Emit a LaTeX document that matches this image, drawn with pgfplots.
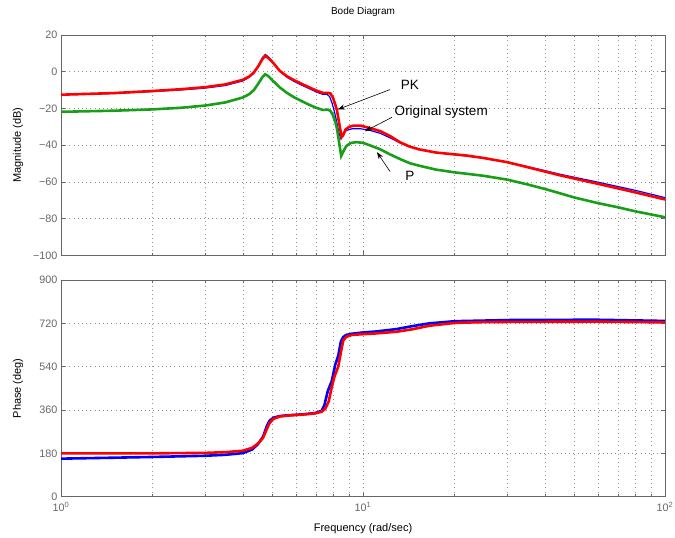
\documentclass[border=0pt]{standalone}
\usepackage{fontspec}
\setmainfont{Liberation Sans}
\usepackage{pgfplots}
\pgfplotsset{compat=1.18}
\usetikzlibrary{arrows.meta}
\definecolor{mgreen}{rgb}{0.1,0.62,0.1}
\definecolor{axgray}{gray}{0.4}
\pgfplotsset{
  bodeax/.style={
    scale only axis, width=604pt, xmin=1, xmax=100,
    anchor=south west,
    axis line style={axgray, line width=0.8pt},
    every tick/.style={axgray, line width=0.6pt},
    tick align=inside, major tick length=4pt, minor tick length=2.5pt,
    xmajorgrids, xminorgrids, ymajorgrids,
    major grid style={black!45, line width=0.5pt, dash pattern=on 0.8pt off 3.4pt},
    minor grid style={black!40, line width=0.5pt, dash pattern=on 0.8pt off 3.4pt},
    tick label style={font=\fontsize{10.8}{12}\selectfont, text=black!60},
    label style={font=\fontsize{11}{13}\selectfont},
    xtick={1,10,100},
    /pgf/number format/assume math mode=true,
  }
}
\begin{document}
\begin{tikzpicture}
\path[use as bounding box] (0pt,0pt) rectangle (675pt,538pt);
\begin{semilogxaxis}[bodeax, at={(61pt,282.5pt)}, height=220.5pt,
  ymin=-100, ymax=20,
  ytick={-100,-80,-60,-40,-20,0,20},
  yticklabels={−100,−80,−60,−40,−20,0,20},
  xticklabels={},
  ylabel={Magnitude (dB)},
  ylabel style={at={(axis description cs:-0.0712,0.5)}, anchor=center},
  title={Bode Diagram},
  title style={font=\fontsize{10}{12}\selectfont, at={(axis description cs:0.5,1)}, anchor=center, yshift=17pt},
]
% Original system (blue, thin)
\addplot[blue, line width=1.2pt] coordinates {
(1.0,-12.6) (1.5,-11.8) (2.0,-10.8) (2.5,-9.9) (3.0,-8.9) (3.5,-7.5) (4.0,-5.0) (4.2,-3.0) (4.35,-0.8) (4.5,3.2) (4.56,5.2) (4.65,7.8) (4.75,9.4) (4.85,8.2) (4.92,7.0) (5.0,5.6) (5.15,3.0) (5.3,0.5) (5.6,-3.0) (5.9,-5.2) (6.3,-7.5) (6.7,-9.5) (7.0,-11) (7.36,-12.3) (7.6,-12.3) (7.75,-13.5) (7.9,-17) (8.05,-22) (8.2,-28) (8.35,-34) (8.45,-36.5) (8.6,-33.5) (8.8,-32) (9.2,-31) (9.8,-31) (10.6,-32) (11.4,-33.5) (12.3,-36) (13.3,-38.8) (14.3,-40.8) (15.4,-42.3) (17.5,-44) (20.2,-45.2) (22,-45.8) (25,-47.0) (30,-49.2) (35,-51.6) (40,-53.8) (45,-55.8) (50,-57.4) (60,-60.1) (70,-62.5) (80,-64.6) (100,-68.5)
};
% P (green)
\addplot[mgreen, line width=2.6pt] coordinates {
(1.0,-21.8) (1.5,-21.2) (2.0,-20.5) (2.5,-19.6) (3.0,-18.4) (3.5,-16.7) (4.0,-14.0) (4.2,-12.2) (4.35,-10.0) (4.5,-6.5) (4.56,-5.0) (4.65,-2.8) (4.74,-1.4) (4.85,-2.3) (4.92,-3.3) (5.0,-4.5) (5.15,-6.5) (5.3,-8.5) (5.6,-11.5) (5.9,-13.8) (6.3,-16.2) (6.7,-18.3) (7.0,-19.6) (7.36,-20.8) (7.65,-20.6) (7.8,-21.3) (7.95,-23.5) (8.1,-27.5) (8.2,-31) (8.3,-36.5) (8.4,-42) (8.47,-45.8) (8.6,-43.5) (8.8,-40.5) (9.1,-38.8) (9.5,-38.3) (10,-38.7) (10.6,-40.2) (11.4,-42.2) (12.3,-45) (13.3,-47.6) (14.3,-49.8) (15.4,-51.2) (17.5,-53.3) (20.2,-54.8) (22,-55.5) (25,-56.6) (30,-58.7) (35,-61.3) (40,-63.8) (45,-66.2) (50,-68.4) (60,-71.5) (70,-73.8) (80,-76.0) (100,-79.2)
};
% PK (red)
\addplot[red, line width=2.6pt] coordinates {
(1.0,-12.5) (1.5,-11.6) (2.0,-10.5) (2.5,-9.5) (3.0,-8.4) (3.5,-6.9) (4.0,-4.4) (4.2,-2.6) (4.35,-0.4) (4.5,3.0) (4.56,4.6) (4.65,7.0) (4.74,8.6) (4.85,7.6) (4.92,6.7) (5.0,5.5) (5.15,3.0) (5.3,0.5) (5.6,-2.5) (5.9,-4.5) (6.3,-6.8) (6.7,-8.8) (7.0,-10.2) (7.36,-11.5) (7.65,-11.5) (7.8,-11.8) (7.95,-14) (8.1,-18) (8.2,-21) (8.3,-26) (8.4,-31) (8.5,-35.5) (8.6,-34.5) (8.75,-31.5) (9.0,-30) (9.3,-29.3) (9.8,-29.3) (10.6,-30.8) (11.4,-32.3) (12.3,-35) (13.3,-38.5) (14.3,-40.8) (15.4,-42.3) (17.5,-44) (20.2,-45) (22,-45.6) (25,-46.9) (30,-49.2) (35,-51.9) (40,-54.3) (45,-56.4) (50,-58.1) (60,-61.0) (70,-63.5) (80,-65.7) (100,-69.5)
};
\node[anchor=center, font=\fontsize{13.5}{15}\selectfont] at (axis cs:14.3,-7.0) {PK};
\draw[-{Stealth[length=7pt,width=5pt]}, line width=0.6pt] (axis cs:12.29,-9.7) -- (axis cs:8.26,-20.5);
\node[anchor=west, font=\fontsize{13.5}{15}\selectfont] at (axis cs:12.4,-22.0) {Original system};
\draw[-{Stealth[length=7pt,width=5pt]}, line width=0.6pt] (axis cs:12.47,-24.8) -- (axis cs:10.15,-32.4);
\node[anchor=center, font=\fontsize{13.5}{15}\selectfont] at (axis cs:14.3,-56.8) {P};
\draw[-{Stealth[length=7pt,width=5pt]}, line width=0.6pt] (axis cs:12.29,-54.3) -- (axis cs:11.13,-43.8);
\end{semilogxaxis}
\begin{semilogxaxis}[bodeax, at={(61pt,41.3pt)}, height=216.7pt,
  ymin=0, ymax=900,
  ytick={0,180,360,540,720,900},
  xticklabels={10\textsuperscript{0},10\textsuperscript{1},10\textsuperscript{2}},
  xticklabel style={yshift=-2pt},
  ylabel={Phase (deg)},
  ylabel style={at={(axis description cs:-0.0712,0.5)}, anchor=center},
  xlabel={Frequency (rad/sec)},
  xlabel style={at={(axis description cs:0.5,0)}, anchor=center, yshift=-32.3pt, text=black},
]
\addplot[blue, line width=2.6pt] coordinates {
(1,158) (1.5,162) (2,165) (3,170) (3.5,174) (4,181) (4.3,196) (4.5,220) (4.67,250) (4.8,292) (4.9,315) (5.05,328) (5.3,335) (5.64,338) (6.3,342) (6.93,347) (7.3,357) (7.45,380) (7.65,440) (7.88,480) (8.1,550) (8.28,585) (8.45,645) (8.6,663) (8.8,672) (9.2,677) (10,682) (11,686) (12.9,696) (14.5,708) (16.6,720) (20.2,729) (31.4,734) (59,735) (100,730)
};
\addplot[red, line width=2.6pt] coordinates {
(1,180) (2,180) (3,182) (3.5,185) (4,191) (4.3,203) (4.5,222) (4.67,245) (4.8,280) (4.9,305) (5.05,323) (5.3,333) (5.64,337) (6.3,341) (6.93,346) (7.3,353) (7.5,365) (7.7,395) (7.88,455) (8.05,500) (8.28,540) (8.45,600) (8.6,648) (8.8,664) (9.2,672) (10,675) (11,678) (12.9,685) (14.5,695) (16.6,710) (20.2,722) (25,725) (31.4,726) (59,727) (100,724)
};
\end{semilogxaxis}
\end{tikzpicture}
\end{document}
